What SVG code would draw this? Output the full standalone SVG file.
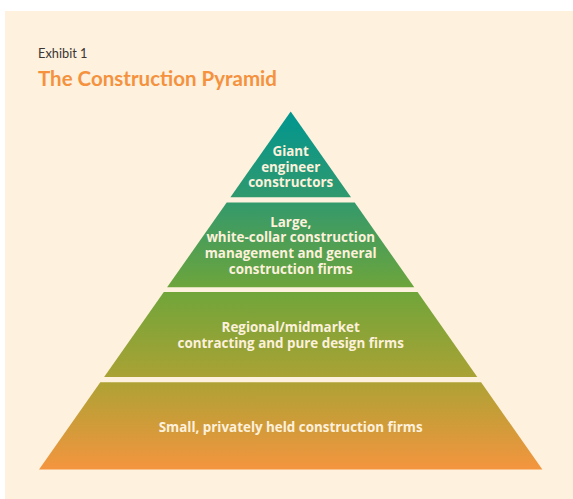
<svg xmlns="http://www.w3.org/2000/svg" width="573" height="499" viewBox="0 0 573 499">
  <defs>
    <linearGradient id="pyramidFill" gradientUnits="userSpaceOnUse" x1="0" y1="111.5" x2="0" y2="469.5">
      <stop offset="0" stop-color="#009690"/>
      <stop offset="0.25" stop-color="#32996c"/>
      <stop offset="0.5" stop-color="#6fa53a"/>
      <stop offset="0.75" stop-color="#aca234"/>
      <stop offset="1" stop-color="#f4953f"/>
    </linearGradient>
    <style>
      .tier { fill: url(#pyramidFill); }
      .label { font-family: "Open Sans", Lato, "Liberation Sans", sans-serif; font-weight: bold; font-size: 13.4px; fill: #fdf1dc; text-anchor: middle; }
    </style>
  </defs>

  <rect x="0" y="0" width="573" height="499" fill="#ffffff"/>
  <rect x="5" y="11" width="568" height="488" fill="#fef1de"/>

  <text x="38" y="57.5" font-family="Lato, 'Liberation Sans', sans-serif" font-size="12.8" fill="#3a3532">Exhibit 1</text>
  <text x="38" y="86" font-family="Lato, 'Liberation Sans', sans-serif" font-size="20.5" font-weight="bold" fill="#f5923e">The Construction Pyramid</text>

  <g id="tier-giant">
    <polygon class="tier" points="290.7,111.5 351,197.3 230.4,197.3"/>
    <text class="label" x="290.7" y="156">Giant</text>
    <text class="label" x="290.7" y="171.6">engineer</text>
    <text class="label" x="290.7" y="187.2">constructors</text>
  </g>

  <g id="tier-large">
    <polygon class="tier" points="226.7,202.5 354.7,202.5 414.3,287.3 167.1,287.3"/>
    <text class="label" x="290.7" y="226.8">Large,</text>
    <text class="label" x="290.7" y="242.4">white-collar construction</text>
    <text class="label" x="290.7" y="258">management and general</text>
    <text class="label" x="290.7" y="273.6">construction firms</text>
  </g>

  <g id="tier-regional">
    <polygon class="tier" points="163.8,292 417.6,292 477.3,377 104.1,377"/>
    <text class="label" x="290.7" y="331.8">Regional/midmarket</text>
    <text class="label" x="290.7" y="347.6">contracting and pure design firms</text>
  </g>

  <g id="tier-small">
    <polygon class="tier" points="100.3,382.3 481.1,382.3 542.4,469.5 39,469.5"/>
    <text class="label" x="290.7" y="431.7">Small, privately held construction firms</text>
  </g>

  <g id="connectors"/>
</svg>
